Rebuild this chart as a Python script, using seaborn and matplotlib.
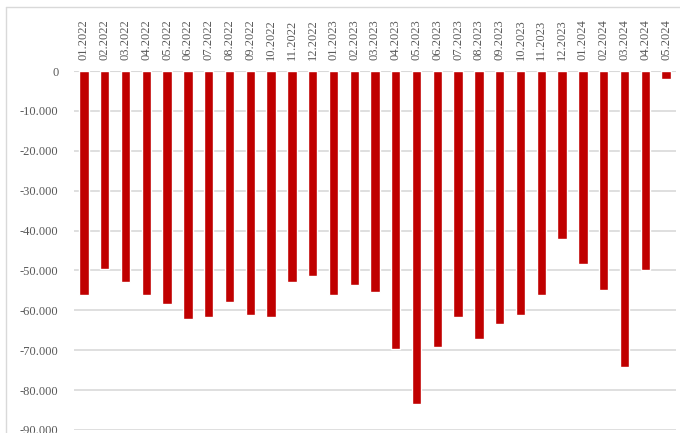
import matplotlib
matplotlib.use("Agg")
import matplotlib.pyplot as plt
import seaborn as sns
import pandas as pd
from matplotlib.ticker import FuncFormatter
from matplotlib.lines import Line2D

months = ["01.2022", "02.2022", "03.2022", "04.2022", "05.2022", "06.2022", "07.2022",
          "08.2022", "09.2022", "10.2022", "11.2022", "12.2022", "01.2023", "02.2023",
          "03.2023", "04.2023", "05.2023", "06.2023", "07.2023", "08.2023", "09.2023",
          "10.2023", "11.2023", "12.2023", "01.2024", "02.2024", "03.2024", "04.2024",
          "05.2024"]
values = [-56100, -49700, -52900, -56100, -58400, -62100, -61700, -57900, -61100,
          -61600, -52900, -51300, -56200, -53600, -55400, -69800, -83500, -69200,
          -61700, -67300, -63400, -61100, -56200, -42200, -48300, -54800, -74200,
          -50000, -1900]
y_ticks = [0, -10000, -20000, -30000, -40000, -50000, -60000, -70000, -80000, -90000]

df = pd.DataFrame({"month": months, "value": values})

sns.set_theme(style="white")
plt.rcParams["font.family"] = ["Liberation Serif", "DejaVu Serif"]

fig = plt.figure(figsize=(6.8, 4.33), dpi=100)
ax = fig.add_axes([73.6 / 680, 1 - 430 / 433, (676.4 - 73.6) / 680, (430 - 71) / 433])

sns.barplot(data=df, x="month", y="value", color="#C00000", width=0.45,
            saturation=1, ax=ax, zorder=3)

ax.set_ylim(-90000, 0)
ax.set_yticks(y_ticks)
ax.yaxis.set_major_formatter(FuncFormatter(
    lambda v, p: "0" if v == 0 else f"{int(v):,}".replace(",", ".")))
ax.grid(axis="y", color="#D9D9D9", linewidth=1.2, zorder=0)
ax.set_axisbelow(True)
for s in ax.spines.values():
    s.set_visible(False)

ax.xaxis.tick_top()
ax.tick_params(axis="x", length=0, pad=8, labelsize=9, labelcolor="#595959",
               labelrotation=90)
ax.tick_params(axis="y", length=0, pad=11, labelsize=9, labelcolor="#595959")
ax.set_xlabel("")
ax.set_ylabel("")

# zero line slightly stronger
ax.axhline(0, color="#D9D9D9", linewidth=1.5, zorder=1)

# outer chart border (top and left visible)
fig.add_artist(Line2D([6 / 680, 6 / 680], [0, 1 - 7 / 433], transform=fig.transFigure,
                      color="#D9D9D9", linewidth=1))
fig.add_artist(Line2D([6 / 680, 1], [1 - 7 / 433, 1 - 7 / 433], transform=fig.transFigure,
                      color="#D9D9D9", linewidth=1))

fig.savefig("out.png", dpi=100)
